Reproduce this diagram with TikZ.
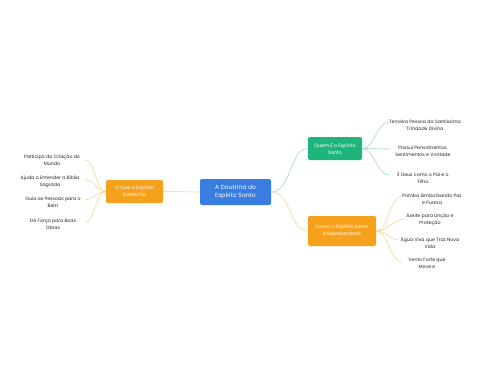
\documentclass[tikz,border=0pt]{standalone}
\usepackage{fontspec}
\setmainfont{Poppins}
\begin{document}
\begin{tikzpicture}[x=1pt,y=-1pt,
  box/.style={rounded corners=2pt, inner sep=0pt, align=center, text=white},
  leaf/.style={align=center, text=black!85, font=\fontsize{4.7}{6.8}\selectfont, inner sep=1pt}]
\definecolor{cblue}{HTML}{3A7DE0}
\definecolor{cgreen}{HTML}{1EB57B}
\definecolor{corange}{HTML}{F5A11C}
\definecolor{lgreen}{HTML}{9FDDC6}
\definecolor{lorange}{HTML}{F8D497}
\tikzset{gline/.style={draw=lgreen, line width=0.6pt}, oline/.style={draw=lorange, line width=0.6pt}}
\useasboundingbox (0,0) rectangle (480,384);
\fill[white] (0,0) rectangle (480,384);
% boxes
\node[box, fill=cblue, minimum width=71pt, minimum height=26pt, font=\fontsize{6}{8.4}\selectfont] (c) at (235.5,192) {A Doutrina do\\Espírito Santo};
\node[box, fill=cgreen, minimum width=54pt, minimum height=23pt, font=\fontsize{4.8}{7.2}\selectfont] (g) at (335,148.5) {Quem É o Espírito\\Santo};
\node[box, fill=corange, minimum width=68pt, minimum height=30pt, font=\fontsize{4.8}{7.2}\selectfont] (r) at (342,231) {Como o Espírito Santo\\é Representado};
\node[box, fill=corange, minimum width=57pt, minimum height=23pt, font=\fontsize{4.9}{7.2}\selectfont] (l) at (134.5,191.5) {O Que o Espírito\\Santo Faz};
% right green leaves
\node[leaf] (g1) at (425,125) {Terceira Pessoa da Santíssima\\Trindade Divina};
\node[leaf] (g2) at (423,151.5) {Possui Pensamentos,\\Sentimentos e Vontade};
\node[leaf] (g3) at (423,177.5) {É Deus como o Pai e o\\Filho};
% right orange leaves
\node[leaf] (r1) at (432,199.5) {Pomba Simbolizando Paz\\e Pureza};
\node[leaf] (r2) at (430,219.5) {Azeite para Unção e\\Proteção};
\node[leaf] (r3) at (430,242.5) {Água Viva que Traz Nova\\Vida};
\node[leaf] (r4) at (427,263.5) {Vento Forte que\\Move e};
% left leaves
\node[leaf] (l1) at (52,160) {Participa da Criação do\\Mundo};
\node[leaf] (l2) at (50,181.5) {Ajuda a Entender a Bíblia\\Sagrada};
\node[leaf] (l3) at (53,202.5) {Guia as Pessoas para o\\Bem};
\node[leaf] (l4) at (53,224.5) {Dá Força para Boas\\Obras};
% connector end points
\coordinate (eg1) at (389,122);
\coordinate (eg2) at (390,149);
\coordinate (eg3) at (389,175);
\coordinate (er1) at (402,196);
\coordinate (er2) at (405,219);
\coordinate (er3) at (400,240);
\coordinate (er4) at (402,262);
\coordinate (el1) at (85,160);
\coordinate (el2) at (85,180);
\coordinate (el3) at (84,200);
\coordinate (el4) at (85,222);
% connectors
\draw[gline] (c.east) .. controls +(20,0) and +(-18,0) .. (g.west);
\draw[oline] (c.east) .. controls +(20,0) and +(-18,0) .. (r.west);
\draw[oline] (c.west) -- (l.east);
\foreach \e in {eg1,eg2,eg3}{\draw[gline] (g.east) .. controls +(12,0) and +(-12,0) .. (\e);}
\foreach \e in {er1,er2,er3,er4}{\draw[oline] (r.east) .. controls +(12,0) and +(-12,0) .. (\e);}
\foreach \e in {el1,el2,el3,el4}{\draw[oline] (l.west) .. controls +(-10,0) and +(10,0) .. (\e);}
\end{tikzpicture}
\end{document}
